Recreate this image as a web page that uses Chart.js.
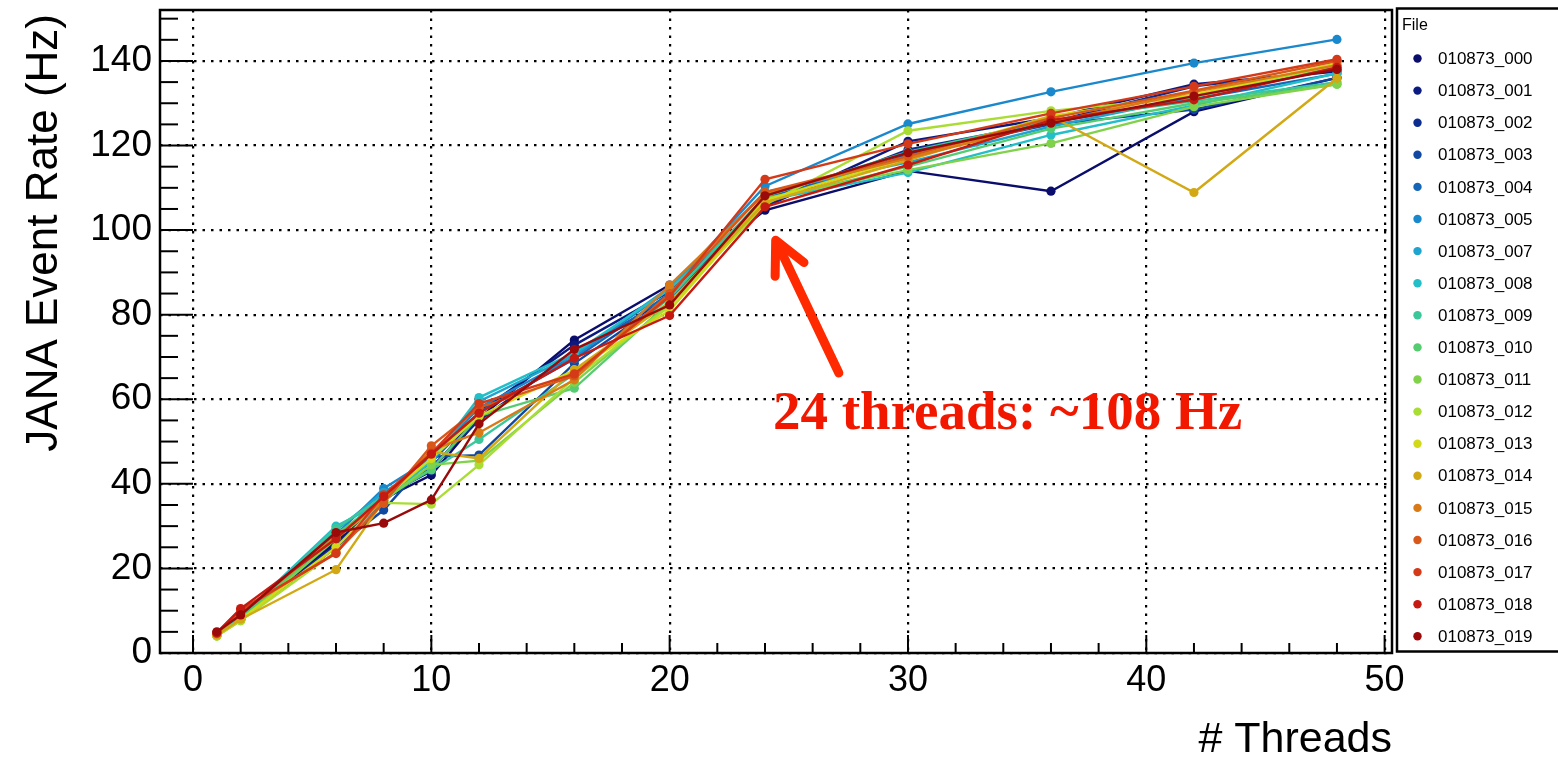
<!DOCTYPE html>
<html><head><meta charset="utf-8">
<script src="https://cdn.jsdelivr.net/npm/chart.js@4.4.1/dist/chart.umd.min.js"></script>
<style>html,body{margin:0;padding:0;background:#fff;overflow:hidden}#wrap{width:1558px;height:757px}</style>
</head><body><div id="wrap"><canvas id="c" width="1558" height="757"></canvas></div>
<script>
// ---------- data ----------
const threads = [1, 2, 6, 8, 10, 12, 16, 20, 24, 30, 36, 42, 48];
const files = ["010873_000","010873_001","010873_002","010873_003","010873_004","010873_005","010873_007",
  "010873_008","010873_009","010873_010","010873_011","010873_012","010873_013","010873_014",
  "010873_015","010873_016","010873_017","010873_018","010873_019"];
const colors = ["#0a0d6b","#0b1a80","#0d2c90","#1148a2","#1566b6","#1a88cc","#1fa3cf",
  "#22bfc8","#3cc79a","#55cc70","#80d24a","#aadd33","#d2d916","#d2a814",
  "#d97a16","#d8581a","#d43a18","#c41a12","#9a0a0a"];
const r000 = [4.3, 8.0, 26.0, 36.5, 42.1, 55.5, 74.0, 87.0, 104.7, 114.0, 109.2, 128.0, 136.0];
const r001 = [4.4, 8.5, 26.5, 37.0, 43.0, 57.0, 72.8, 85.5, 105.5, 121.0, 126.5, 134.5, 137.5];
const r002 = [4.3, 8.2, 25.5, 36.0, 44.0, 55.0, 71.0, 84.0, 106.0, 119.0, 125.5, 134.0, 138.0];
const r003 = [4.2, 7.8, 25.0, 33.8, 46.4, 46.8, 68.5, 84.0, 106.5, 118.0, 125.0, 128.5, 136.0];
const r004 = [4.4, 8.3, 27.0, 37.5, 45.0, 57.0, 69.5, 85.0, 107.5, 117.5, 125.5, 131.0, 137.0];
const r005 = [4.5, 9.0, 28.0, 38.9, 46.0, 58.0, 70.0, 86.0, 110.4, 125.1, 132.7, 139.5, 145.1];
const r007 = [4.5, 8.8, 29.0, 38.0, 45.0, 59.5, 70.5, 86.5, 109.0, 116.0, 124.5, 131.5, 138.5];
const r008 = [4.3, 8.6, 30.0, 35.8, 45.5, 60.4, 71.0, 86.0, 107.0, 113.6, 122.5, 129.5, 137.1];
const r009 = [4.2, 8.2, 29.5, 37.0, 43.3, 50.5, 66.0, 84.0, 108.0, 118.5, 126.0, 130.5, 135.0];
const r010 = [4.1, 7.9, 28.0, 36.5, 43.5, 56.0, 62.6, 83.0, 107.0, 115.0, 124.0, 130.0, 134.5];
const r011 = [4.0, 7.7, 27.0, 36.0, 44.5, 45.5, 64.0, 82.5, 107.5, 114.2, 120.5, 129.2, 134.5];
const r012 = [4.0, 7.6, 24.0, 35.5, 35.2, 44.5, 65.0, 82.0, 106.0, 123.5, 128.2, 131.5, 139.0];
const r013 = [4.2, 8.0, 25.0, 36.5, 46.0, 56.0, 66.9, 81.0, 107.1, 117.0, 127.0, 132.0, 139.4];
const r014 = [4.2, 8.0, 19.7, 36.0, 47.6, 46.0, 67.0, 83.0, 106.5, 116.5, 127.0, 108.9, 135.9];
const r015 = [4.6, 9.5, 27.5, 36.0, 48.0, 52.1, 64.6, 87.0, 108.7, 117.0, 125.5, 132.7, 139.0];
const r016 = [4.6, 10.0, 23.7, 35.5, 49.0, 58.0, 65.5, 85.0, 109.0, 117.5, 126.5, 133.0, 140.0];
const r017 = [4.7, 10.3, 23.5, 37.4, 47.2, 59.0, 66.0, 84.3, 112.0, 120.4, 127.6, 134.0, 140.4];
const r018 = [4.8, 10.5, 27.0, 37.0, 47.0, 56.7, 69.7, 79.8, 105.5, 115.4, 126.0, 130.8, 138.5];
const r019 = [5.0, 9.0, 28.5, 30.7, 36.2, 54.2, 71.8, 82.3, 108.1, 118.3, 125.3, 131.7, 138.0];
const rates = [r000,r001,r002,r003,r004,r005,r007,r008,r009,r010,r011,r012,r013,r014,r015,r016,r017,r018,r019];
const xMajor = [0, 10, 20, 30, 40, 50];
const yMajor = [0, 20, 40, 60, 80, 100, 120, 140];
const xTitle = "# Threads";
const yTitle = "JANA Event Rate (Hz)";
const legendTitle = "File";
const noteText = "24 threads: ~108 Hz";

// ---------- chart ----------
const X_MIN = -1.385, X_MAX = 50.31, Y_MIN = 0, Y_MAX = 152.05;
const xMinor = []; for (let v = 0; v <= 50; v += 2) xMinor.push(v);
const yMinor = []; for (let v = 0; v <= 150; v += 5) yMinor.push(v);

const datasets = rates.map((vals, i) => ({
  label: files[i],
  data: threads.map((t, j) => ({ x: t, y: vals[j] })),
  borderColor: colors[i],
  backgroundColor: colors[i],
  pointBackgroundColor: colors[i],
  pointBorderWidth: 0,
  pointRadius: 4.6,
  borderWidth: 2.4,
  tension: 0,
  fill: false,
  order: rates.length - 1 - i
}));

function seg(ctx, x1, y1, x2, y2) { ctx.beginPath(); ctx.moveTo(x1, y1); ctx.lineTo(x2, y2); ctx.stroke(); }

const overlay = {
  id: 'overlay',
  afterDatasetsDraw(chart) {
    const { ctx, chartArea: a, scales: { x, y } } = chart;
    ctx.save();
    ctx.strokeStyle = '#000';
    ctx.lineWidth = 2;
    ctx.lineCap = 'butt';
    x.ticks.forEach(t => {
      const px = x.getPixelForValue(t.value);
      const len = xMajor.includes(t.value) ? 18 : 10;
      seg(ctx, px, a.bottom, px, a.bottom - len);
    });
    y.ticks.forEach(t => {
      const py = y.getPixelForValue(t.value);
      const len = yMajor.includes(t.value) ? 33 : 18;
      seg(ctx, a.left, py, a.left + len, py);
    });
    ctx.lineWidth = 2.5;
    ctx.strokeRect(a.left, a.top, a.right - a.left, a.bottom - a.top);

    // axis titles
    ctx.fillStyle = '#000';
    ctx.font = '43px "Liberation Sans", Arial, sans-serif';
    ctx.textAlign = 'right';
    ctx.textBaseline = 'alphabetic';
    ctx.fillText(xTitle, a.right, 752);
    ctx.save();
    ctx.font = '44px "Liberation Sans", Arial, sans-serif';
    ctx.translate(57, 14);
    ctx.rotate(-Math.PI / 2);
    ctx.fillText(yTitle, 0, 0);
    ctx.restore();

    // legend box
    const lx = a.right + 5;
    ctx.lineWidth = 2.5;
    ctx.strokeRect(lx, 8.5, 1600 - lx, 651.5 - 8.5);
    ctx.textAlign = 'left';
    ctx.textBaseline = 'middle';
    ctx.font = '16px "Liberation Sans", Arial, sans-serif';
    ctx.fillText(legendTitle, lx + 5, 26);
    ctx.font = '17px "Liberation Sans", Arial, sans-serif';
    files.forEach((f, i) => {
      const cy = 58.5 + i * 32.1;
      ctx.fillStyle = colors[i];
      ctx.beginPath(); ctx.arc(lx + 20.5, cy, 4.2, 0, Math.PI * 2); ctx.fill();
      ctx.fillStyle = '#000';
      ctx.fillText(f, lx + 41, cy + 1);
    });

    // annotation arrow
    const tipX = x.getPixelForValue(24.45), tipY = y.getPixelForValue(97.6);
    const tailX = x.getPixelForValue(27.1), tailY = y.getPixelForValue(66.2);
    ctx.strokeStyle = '#ff2a00';
    ctx.lineWidth = 9;
    ctx.lineCap = 'round';
    ctx.lineJoin = 'round';
    seg(ctx, tailX, tailY, tipX + 2, tipY + 4);
    const ang = Math.atan2(tailY - tipY, tailX - tipX);
    const hl = 36, spread = 0.46;
    ctx.beginPath();
    ctx.moveTo(tipX + hl * Math.cos(ang - spread), tipY + hl * Math.sin(ang - spread));
    ctx.lineTo(tipX, tipY);
    ctx.lineTo(tipX + hl * Math.cos(ang + spread), tipY + hl * Math.sin(ang + spread));
    ctx.stroke();

    ctx.fillStyle = '#f21800';
    ctx.font = 'bold 55px "Liberation Serif", "Times New Roman", serif';
    ctx.textAlign = 'left';
    ctx.textBaseline = 'alphabetic';
    ctx.fillText(noteText, 773, 429);
    ctx.restore();
  }
};

new Chart(document.getElementById('c'), {
  type: 'line',
  data: { datasets },
  options: {
    responsive: false,
    animation: false,
    events: [],
    layout: { padding: { top: 10, right: 166, left: 0, bottom: 0 } },
    plugins: { legend: { display: false }, tooltip: { enabled: false } },
    scales: {
      x: {
        type: 'linear', min: X_MIN, max: X_MAX,
        afterBuildTicks: s => { s.ticks = xMinor.map(v => ({ value: v })); },
        afterFit: s => { s.height = 104; s.paddingLeft = 0; s.paddingRight = 0; },
        ticks: {
          autoSkip: false, maxRotation: 0, padding: 6, color: '#000',
          font: { family: '"Liberation Sans", Arial, sans-serif', size: 36 },
          callback: v => xMajor.includes(v) ? String(v) : ''
        },
        grid: {
          drawTicks: false, lineWidth: 2.2,
          color: c => (c.tick && xMajor.includes(c.tick.value)) ? '#000' : 'rgba(0,0,0,0)'
        },
        border: { display: false, dash: [2.5, 6] }
      },
      y: {
        type: 'linear', min: Y_MIN, max: Y_MAX,
        afterBuildTicks: s => { s.ticks = yMinor.map(v => ({ value: v })); },
        afterFit: s => { s.width = 160; s.paddingTop = 0; s.paddingBottom = 0; },
        ticks: {
          autoSkip: false, padding: 8, color: '#000',
          font: { family: '"Liberation Sans", Arial, sans-serif', size: 37 },
          callback: v => yMajor.includes(v) ? String(v) : ''
        },
        grid: {
          drawTicks: false, lineWidth: 2.2,
          color: c => (c.tick && yMajor.includes(c.tick.value)) ? '#000' : 'rgba(0,0,0,0)'
        },
        border: { display: false, dash: [2.5, 6] }
      }
    }
  },
  plugins: [overlay]
});
</script></body></html>
